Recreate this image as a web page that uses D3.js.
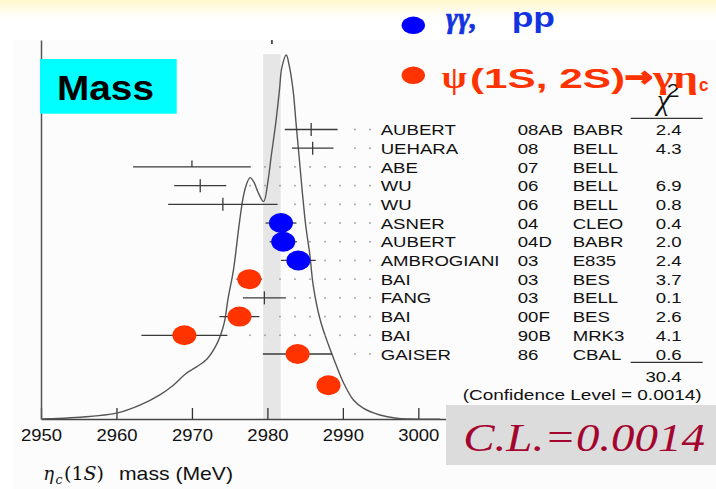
<!DOCTYPE html>
<html>
<head>
<meta charset="utf-8">
<script src="https://cdn.jsdelivr.net/npm/d3@7/dist/d3.min.js"></script>
<style>
  html, body { margin: 0; padding: 0; background: #ffffff; }
  svg { display: block; }
</style>
</head>
<body>
<svg id="chart" width="716" height="489"></svg>
<script>
// ---- eta_c(1S) mass measurements ----
const authors     = ["AUBERT", "UEHARA", "ABE", "WU", "WU", "ASNER", "AUBERT", "AMBROGIANI", "BAI", "FANG", "BAI", "BAI", "GAISER"];
const years       = ["08AB", "08", "07", "06", "06", "04", "04D", "03", "03", "03", "00F", "90B", "86"];
const experiments = ["BABR", "BELL", "BELL", "BELL", "BELL", "CLEO", "BABR", "E835", "BES", "BELL", "BES", "MRK3", "CBAL"];
const chi2        = ["2.4", "4.3", "", "6.9", "0.8", "0.4", "2.0", "2.4", "3.7", "0.1", "2.6", "4.1", "0.6"];
const massValues  = [2985.8, 2986.0, 2970.0, 2971.1, 2974.1, 2981.8, 2982.1, 2984.1, 2977.6, 2979.6, 2976.3, 2969.0, 2984.0];
const massErrors  = [3.5, 2.75, 7.8, 3.45, 7.25, 2.05, 1.8, 2.3, 1.7, 2.85, 2.65, 5.7, 4.6];
// centre tick of each error bar: "full" or "up" (upper half only)
const centreTick  = ["full", "full", "up", "full", "full", "full", "full", "full", "full", "full", "full", "full", "full"];
// production channel: "gg" = γγ / pp, "psi" = ψ(1S,2S) → γη_c, "" = other
const production  = ["", "", "", "", "", "gg", "gg", "gg", "psi", "", "psi", "psi", "psi"];

// an additional ψ-channel result drawn below the list
const extraMass       = [2988.1];
const extraRow        = [13.67];
const extraProduction = ["psi"];

const chi2Total       = "30.4";
const confidenceLevel = "0.0014";

// weighted average and its error (shaded band)
const averageMass  = 2980.6;
const averageError = 1.16;

// ideogram (relative height, peak = 100)
const curveMass   = [2950.1, 2951.2, 2955.2, 2960.0, 2963.1, 2965.8, 2967.5, 2969.1, 2970.6, 2972.0,
                     2973.1, 2973.8, 2974.3, 2974.8, 2975.5, 2976.3, 2976.8, 2977.2, 2977.7, 2978.2,
                     2978.8, 2979.5, 2980.1, 2980.5, 2981.1, 2981.6, 2981.9, 2982.5, 2982.9, 2983.4,
                     2983.8, 2984.2, 2984.6, 2985.1, 2985.6, 2986.1, 2987.0, 2988.1, 2989.0, 2990.1,
                     2991.4, 2992.7, 2994.9, 2997.1, 2998.9, 3002.9];
const curveHeight = [0, 0.1, 0.5, 1.6, 3.8, 6.7, 9.2, 12.3, 14.3, 16.5,
                     19.8, 23.1, 26.6, 33.2, 40.9, 54.1, 61.0, 64.3, 66.3, 65.1,
                     62.1, 59.7, 65.7, 72.1, 81.2, 90.4, 96.4, 100, 97.0, 90.4,
                     81.2, 72.1, 62.9, 52.8, 45.5, 36.3, 27.2, 20.3, 15.4, 9.9,
                     5.2, 3.0, 1.1, 0.2, 0, 0];

const xTicks = [2950, 2960, 2970, 2980, 2990, 3000];

// ---- drawing ----
const svg = d3.select("#chart");
const colors = { gg: "#0000ff", psi: "#ff3300" };

const x = d3.scaleLinear().domain([2950, 3003.6]).range([41, 445.5]);
const yCurve = d3.scaleLinear().domain([0, 104.1]).range([419, 40]);
const yRow = d3.scaleLinear().domain([0, 12]).range([129.5, 354]);

// page background: pale yellow band at the top
const defs = svg.append("defs");
const grad = defs.append("linearGradient").attr("id", "topGlow")
  .attr("x1", 0).attr("y1", 0).attr("x2", 0).attr("y2", 1);
grad.append("stop").attr("offset", "0%").attr("stop-color", "#fff8cc");
grad.append("stop").attr("offset", "100%").attr("stop-color", "#ffffff");
svg.append("rect").attr("x", 0).attr("y", 0).attr("width", 716).attr("height", 489).attr("fill", "#ffffff");
svg.append("rect").attr("x", 0).attr("y", 0).attr("width", 716).attr("height", 18).attr("fill", "url(#topGlow)");
svg.append("rect").attr("x", 13).attr("y", 40).attr("width", 703).attr("height", 449).attr("fill", "#fcfcfc");

// shaded band for the average
svg.append("rect")
  .attr("x", x(averageMass - averageError))
  .attr("y", yCurve(100.2))
  .attr("width", x(averageMass + averageError) - x(averageMass - averageError))
  .attr("height", yCurve(0) - yCurve(100.2))
  .attr("fill", "#e6e6e6");

// axes
const xAxis = svg.append("g")
  .attr("transform", `translate(0,${yCurve(0)})`)
  .call(d3.axisBottom(x).tickValues(xTicks).tickSizeInner(-11).tickSizeOuter(0)
        .tickPadding(10).tickFormat(d3.format("d")));
xAxis.select(".domain").attr("stroke", "#444").attr("stroke-width", 1.5);
xAxis.selectAll(".tick line").attr("stroke", "#333").attr("stroke-width", 1.3);
xAxis.selectAll(".tick text")
  .attr("font-family", "Liberation Sans, Arial, sans-serif")
  .attr("font-size", 16.5).attr("fill", "#111")
  .attr("transform", "scale(1.12,1)");

const yAxis = svg.append("g")
  .attr("transform", `translate(${x(2950)},0)`)
  .call(d3.axisLeft(yCurve).tickValues([]).tickSizeOuter(0));
yAxis.select(".domain").attr("stroke", "#555").attr("stroke-width", 1.5);

// marker for the average at the top of the frame
svg.append("line")
  .attr("x1", x(averageMass)).attr("x2", x(averageMass))
  .attr("y1", yCurve(104.1)).attr("y2", yCurve(104.1) + 4)
  .attr("stroke", "#333").attr("stroke-width", 1.6);

// ideogram
const curvePts = curveMass.map((m, i) => ({ m, h: curveHeight[i] }));
svg.append("path")
  .datum(curvePts)
  .attr("fill", "none")
  .attr("stroke", "#555")
  .attr("stroke-width", 1.4)
  .attr("d", d3.line().x(d => x(d.m)).y(d => yCurve(d.h)).curve(d3.curveCatmullRom.alpha(0.5)));

// rows of measurements
const rows = authors.map((a, i) => ({
  i, author: a, year: years[i], exp: experiments[i], chi: chi2[i],
  m: massValues[i], e: massErrors[i], tick: centreTick[i], prod: production[i]
}));

// dotted leaders toward the text column
const nameX = 380.7, yearX = 517.7, expX = 572.7, chiX = 681.7;
const leaderStep = 15, leaderCount = 9;
rows.forEach(r => {
  const barEnd = x(r.m + r.e);
  for (let k = 0; k < leaderCount; k++) {
    const px = nameX - 10.7 - k * leaderStep;
    if (px > barEnd + 8) {
      svg.append("rect")
        .attr("x", px - 0.8).attr("y", yRow(r.i) - 0.8)
        .attr("width", 1.6).attr("height", 1.6)
        .attr("fill", "#9a9a9a");
    }
  }
});

// error bars
const bars = svg.append("g").attr("stroke", "#3a3a3a").attr("stroke-width", 1.3);
rows.forEach(r => {
  const yy = yRow(r.i);
  bars.append("line")
    .attr("x1", x(r.m - r.e)).attr("x2", x(r.m + r.e))
    .attr("y1", yy).attr("y2", yy);
  bars.append("line")
    .attr("x1", x(r.m)).attr("x2", x(r.m))
    .attr("y1", yy - 6.5).attr("y2", r.tick === "up" ? yy : yy + 6.5);
});

// production-channel markers
const markers = rows.filter(r => r.prod)
  .map(r => ({ m: r.m, row: r.i, prod: r.prod }))
  .concat(extraMass.map((m, k) => ({ m, row: extraRow[k], prod: extraProduction[k] })));
svg.append("g").selectAll("ellipse")
  .data(markers).join("ellipse")
  .attr("cx", d => x(d.m))
  .attr("cy", d => yRow(d.row))
  .attr("rx", 12).attr("ry", 10)
  .attr("fill", d => colors[d.prod]);

// table text
const tableFont = "Liberation Sans, Arial, sans-serif";
function stretchedText(g, tx, ty, str, anchor, size, sx) {
  return g.append("text")
    .attr("transform", `translate(${tx},${ty}) scale(${sx},1)`)
    .attr("text-anchor", anchor)
    .attr("font-family", tableFont)
    .attr("font-size", size)
    .attr("fill", "#111")
    .text(str);
}
const table = svg.append("g");
rows.forEach(r => {
  const base = yRow(r.i) + 5.6;
  stretchedText(table, nameX, base, r.author, "start", 15.5, 1.2);
  stretchedText(table, yearX, base, r.year, "start", 15.5, 1.2);
  stretchedText(table, expX, base, r.exp, "start", 15.5, 1.2);
  if (r.chi) stretchedText(table, chiX, base, r.chi, "end", 15.5, 1.2);
});

// chi-squared header, rules and total
svg.append("text")
  .attr("x", 657).attr("y", 110)
  .attr("font-family", "Liberation Serif, Times New Roman, serif")
  .attr("font-style", "italic")
  .attr("font-size", 29)
  .attr("fill", "#111")
  .text("χ");
svg.append("text")
  .attr("transform", "translate(673,97) scale(1.2,1)")
  .attr("text-anchor", "middle")
  .attr("font-family", "Liberation Sans, Arial, sans-serif")
  .attr("font-size", 19)
  .attr("fill", "#111")
  .text("2");
svg.append("line").attr("x1", 630.7).attr("x2", 702.7).attr("y1", 118.3).attr("y2", 118.3)
  .attr("stroke", "#333").attr("stroke-width", 1.2);
svg.append("line").attr("x1", 630.7).attr("x2", 702.7).attr("y1", 362.3).attr("y2", 362.3)
  .attr("stroke", "#333").attr("stroke-width", 1.2);
stretchedText(svg, chiX, 381.7, chi2Total, "end", 15.5, 1.2);
svg.append("text")
  .attr("x", 462.7).attr("y", 400)
  .attr("font-family", tableFont).attr("font-size", 15.5).attr("fill", "#111")
  .attr("textLength", 239).attr("lengthAdjust", "spacingAndGlyphs")
  .text(`(Confidence Level = ${confidenceLevel})`);

// x-axis title: η_c(1S) mass (MeV)
const titleG = svg.append("g").attr("fill", "#111");
titleG.append("text").attr("x", 43.3).attr("y", 480)
  .attr("font-family", "DejaVu Serif, serif").attr("font-style", "italic").attr("font-size", 18)
  .text("η");
titleG.append("text").attr("x", 55.5).attr("y", 483.5)
  .attr("font-family", "DejaVu Serif, serif").attr("font-style", "italic").attr("font-size", 12.5)
  .text("c");
const paren = titleG.append("text").attr("x", 64).attr("y", 480)
  .attr("font-family", "DejaVu Serif, serif").attr("font-size", 19);
paren.append("tspan").text("(1");
paren.append("tspan").attr("font-style", "italic").text("S");
paren.append("tspan").text(")");
titleG.append("text").attr("x", 119).attr("y", 480)
  .attr("font-family", "Liberation Sans, Arial, sans-serif").attr("font-size", 19)
  .attr("textLength", 114).attr("lengthAdjust", "spacingAndGlyphs")
  .text("mass (MeV)");

// "Mass" label
svg.append("rect").attr("x", 40).attr("y", 59).attr("width", 136.7).attr("height", 54.7).attr("fill", "#00ffff");
svg.append("text").attr("x", 57).attr("y", 100)
  .attr("font-family", "Liberation Sans, Arial, sans-serif").attr("font-weight", "bold")
  .attr("font-size", 35).attr("fill", "#000")
  .attr("textLength", 97).attr("lengthAdjust", "spacingAndGlyphs")
  .text("Mass");

// legend
const legendText = [
  { cy: 25.3, color: "#1433e0", parts: [
      { t: "γγ,", x: 446, y: 28, len: 31, font: "Liberation Serif, serif", style: "italic", size: 29, stroke: 0.7 },
      { t: "pp", x: 511.7, y: 27, len: 43.3, font: "Liberation Sans, Arial, sans-serif", style: "normal", size: 27, stroke: 0 } ] },
  { cy: 75.3, color: "#ff3300", parts: [
      { t: "ψ", x: 441.7, y: 87.5, len: 25, font: "Liberation Serif, serif", style: "normal", size: 32, stroke: 0 },
      { t: "(1S, 2S)", x: 470, y: 87.5, len: 155, font: "Liberation Sans, Arial, sans-serif", style: "normal", size: 28, stroke: 0 },
      { t: "→", x: 625, y: 86, len: 28, font: "DejaVu Sans, sans-serif", style: "normal", size: 26, stroke: 1.6 },
      { t: "γη", x: 653, y: 87.5, len: 45, font: "Liberation Serif, serif", style: "normal", size: 32, stroke: 0 },
      { t: "c", x: 699, y: 91, len: 9.5, font: "Liberation Sans, Arial, sans-serif", style: "normal", size: 19, stroke: 0 } ] }
];
const legend = svg.append("g");
legendText.forEach((entry, k) => {
  legend.append("ellipse")
    .attr("cx", 413.3).attr("cy", entry.cy).attr("rx", 11.7).attr("ry", 8.7)
    .attr("fill", colors[k === 0 ? "gg" : "psi"]);
  entry.parts.forEach(p => {
    legend.append("text")
      .attr("x", p.x).attr("y", p.y)
      .attr("font-family", p.font).attr("font-style", p.style)
      .attr("font-weight", "bold").attr("font-size", p.size)
      .attr("fill", entry.color)
      .attr("stroke", p.stroke ? entry.color : "none")
      .attr("stroke-width", p.stroke)
      .attr("textLength", p.len).attr("lengthAdjust", "spacingAndGlyphs")
      .text(p.t);
  });
});

// confidence-level box
svg.append("rect").attr("x", 446).attr("y", 405).attr("width", 270).attr("height", 60).attr("fill", "#dcdcdc");
svg.append("text").attr("x", 463.3).attr("y", 450.7)
  .attr("font-family", "Liberation Serif, Times New Roman, serif").attr("font-style", "italic")
  .attr("font-size", 41).attr("fill", "#a3052e")
  .attr("textLength", 241.7).attr("lengthAdjust", "spacingAndGlyphs")
  .text(`C.L.=${confidenceLevel}`);
</script>
</body>
</html>
